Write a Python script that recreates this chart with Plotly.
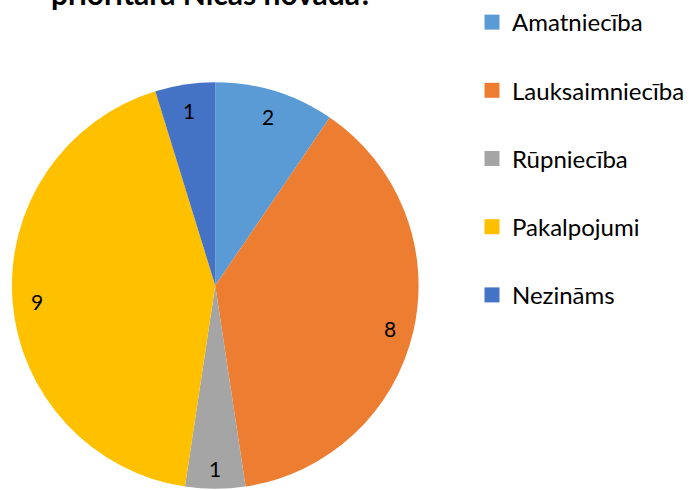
import math
import plotly.graph_objects as go

categories = ["Amatniecība", "Lauksaimniecība", "Rūpniecība", "Pakalpojumi", "Nezināms"]
values = [2, 8, 1, 9, 1]
colors = ["#5B9BD5", "#ED7D31", "#A5A5A5", "#FFC000", "#4472C4"]
title_text = "prioritārā Nīcas novadā?"

W, H = 690, 490
FONT = "Lato, Carlito, Liberation Sans, sans-serif"

# pie geometry (pixels from top-left)
cx, cy, R = 216.5, 285.5, 204.5
dom_x = [(cx - R) / W, (cx + R) / W]
dom_y = [(H - (cy + R)) / H, (H - (cy - R)) / H]

fig = go.Figure()
fig.add_trace(go.Pie(
    labels=categories, values=values, sort=False, direction="clockwise", rotation=0,
    marker=dict(colors=colors, line=dict(width=0)),
    textinfo="none", showlegend=False, hoverinfo="label+value",
    domain=dict(x=dom_x, y=dom_y),
))

# legend via dummy traces
for c, col in zip(categories, colors):
    fig.add_trace(go.Scatter(
        x=[None], y=[None], mode="markers", name=c, legendgroup=c,
        marker=dict(symbol="square", size=15, color=col),
        showlegend=True, hoverinfo="skip",
    ))

# data labels along slice mid-angle
total = sum(values)
cum = 0
for v in values:
    mid = (cum + v / 2) / total * 2 * math.pi
    cum += v
    r = 0.88 * R
    fig.add_annotation(x=cx + r * math.sin(mid), y=cy + 3 - r * math.cos(mid),
                       xref="x", yref="y", text=str(v), showarrow=False,
                       xanchor="center", yanchor="middle",
                       font=dict(size=21, color="#000000", family=FONT))

fig.add_annotation(x=213 / W, y=1 - 13 / H, xref="paper", yref="paper",
                   xanchor="center", yanchor="bottom", text="<b>" + title_text + "</b>",
                   showarrow=False, font=dict(size=30, color="#000000", family=FONT))

fig.update_layout(
    width=W, height=H, margin=dict(l=0, r=0, t=0, b=0),
    paper_bgcolor="white", plot_bgcolor="white",
    xaxis=dict(visible=False, range=[0, W], fixedrange=True),
    yaxis=dict(visible=False, range=[H, 0], fixedrange=True),
    legend=dict(x=475 / W, y=1, xanchor="left", yanchor="top",
                font=dict(size=24, family=FONT, color="#000000"),
                tracegroupgap=34, itemwidth=30, bgcolor="rgba(0,0,0,0)",
                maxheight=480),
)

fig.write_html("out.html", config={"displayModeBar": False},
               post_script="document.body.style.margin='0';document.body.style.overflow='hidden';")
